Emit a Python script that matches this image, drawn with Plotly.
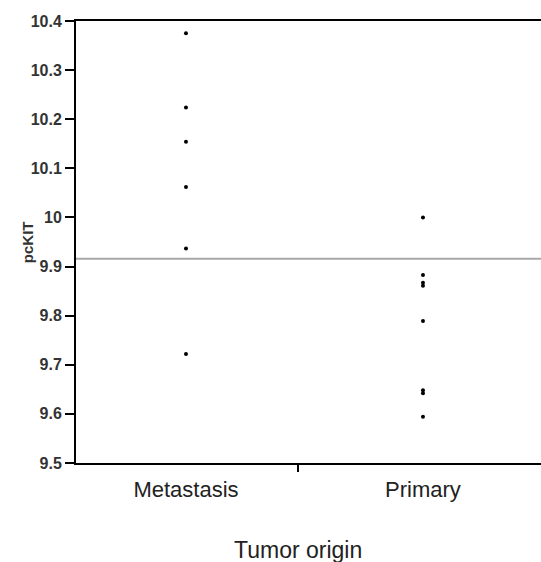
import plotly.graph_objects as go

categories = ["Metastasis", "Primary"]
metastasis_values = [10.375, 10.224, 10.154, 10.062, 9.937, 9.722]
primary_values = [10.0, 9.883, 9.867, 9.861, 9.789, 9.648, 9.642, 9.594]
cutoff_value = 9.916
y_tick_values = [9.5, 9.6, 9.7, 9.8, 9.9, 10.0, 10.1, 10.2, 10.3, 10.4]
y_tick_labels = ["9.5", "9.6", "9.7", "9.8", "9.9", "10", "10.1", "10.2", "10.3", "10.4"]
x_title = "Tumor origin"
y_title = "pcKIT"

FONT = "Liberation Sans, Arial, Helvetica, sans-serif"
x_range = [-0.464, 1.498]
x_mid = 0.473

fig = go.Figure()
fig.add_trace(go.Scatter(
    x=[0] * len(metastasis_values), y=metastasis_values, mode="markers",
    marker=dict(color="black", size=4, symbol="circle"), showlegend=False))
fig.add_trace(go.Scatter(
    x=[1] * len(primary_values), y=primary_values, mode="markers",
    marker=dict(color="black", size=4, symbol="circle"), showlegend=False))
# invisible trace to anchor the overlay axis carrying the mid tick
fig.add_trace(go.Scatter(x=[x_mid], y=[9.5], xaxis="x2", mode="markers",
                         marker=dict(opacity=0), showlegend=False, hoverinfo="skip"))

fig.add_shape(type="line", xref="paper", x0=0, x1=1, yref="y",
              y0=cutoff_value, y1=cutoff_value,
              line=dict(color="#a8a8a8", width=2), layer="below")

fig.update_layout(
    width=541, height=562,
    margin=dict(l=76, r=0, t=21, b=99),
    plot_bgcolor="white", paper_bgcolor="white",
    font=dict(family=FONT, color="#222"),
    xaxis=dict(range=x_range, tickvals=[0, 1], ticktext=categories,
               ticks="", showgrid=False, zeroline=False, ticklabelstandoff=6,
               showline=True, mirror=True, linecolor="black", linewidth=2,
               tickfont=dict(size=22, color="#222", family=FONT)),
    xaxis2=dict(range=x_range, overlaying="x", side="bottom", anchor="y",
                tickvals=[x_mid], showticklabels=False, ticks="outside",
                ticklen=8, tickwidth=2, tickcolor="black",
                showgrid=False, zeroline=False, showline=False),
    yaxis=dict(range=[9.5, 10.4], tickvals=y_tick_values, ticktext=y_tick_labels,
               ticks="outside", ticklen=9, tickwidth=2, tickcolor="black",
               showgrid=False, zeroline=False,
               showline=True, linecolor="black", linewidth=2,
               tickfont=dict(size=16, color="#333", family=FONT, weight="bold")),
    annotations=[
        dict(text=x_title, xref="x", yref="paper", x=x_mid, y=-0.163,
             yanchor="top", xanchor="center", showarrow=False,
             font=dict(size=23, color="#222", family=FONT)),
        dict(text="<b>" + y_title + "</b>", xref="paper", yref="paper",
             x=-0.105, y=0.5, textangle=-90, xanchor="center", yanchor="middle",
             showarrow=False, font=dict(size=15, color="#333", family=FONT)),
    ],
)

fig.write_html("out.html", config={"displayModeBar": False},
               post_script="document.body.style.margin='0';document.body.style.overflow='hidden';")
